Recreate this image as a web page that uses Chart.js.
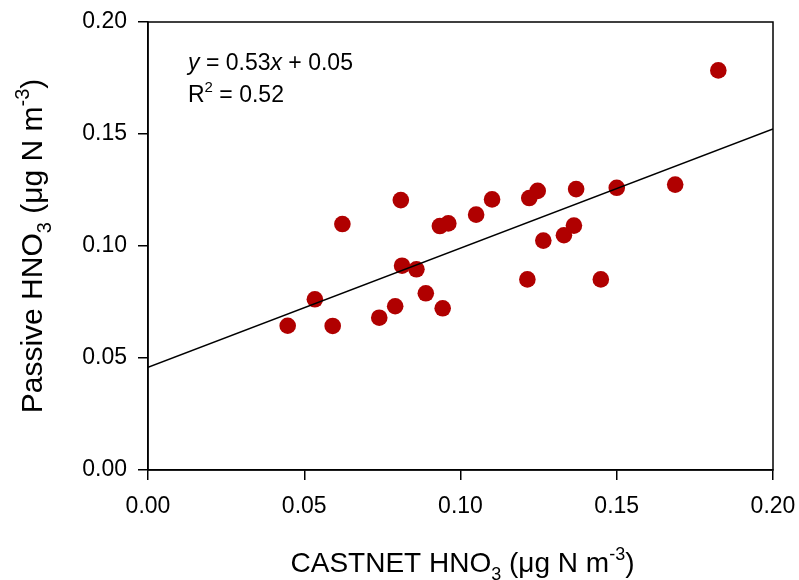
<!DOCTYPE html>
<html><head><meta charset="utf-8">
<script src="https://cdn.jsdelivr.net/npm/chart.js@4/dist/chart.umd.min.js"></script>
<style>html,body{margin:0;padding:0;background:#fff;}#wrap{width:799px;height:580px;}</style>
</head><body><div id="wrap"><canvas id="c" width="799" height="580"></canvas></div>
<script>
// ---- data ----
const castnetX = [0.0447, 0.0534, 0.0591, 0.0622, 0.0740, 0.0791, 0.0809, 0.0813, 0.0859, 0.0889, 0.0943, 0.0934, 0.0961, 0.1050, 0.1101, 0.1214, 0.1220, 0.1247, 0.1265, 0.1331, 0.1363, 0.1370, 0.1449, 0.1500, 0.1687, 0.1825];
const passiveY = [0.0644, 0.0762, 0.0643, 0.1098, 0.0680, 0.0731, 0.1205, 0.0912, 0.0896, 0.0789, 0.0722, 0.1089, 0.1101, 0.1140, 0.1208, 0.0851, 0.1214, 0.1246, 0.1024, 0.1048, 0.1091, 0.1254, 0.0851, 0.1260, 0.1274, 0.1784];
const fitX = [0.00, 0.20];
const fitY = [0.0459, 0.1522];
const xTicks = [0.00, 0.05, 0.10, 0.15, 0.20];
const yTicks = [0.00, 0.05, 0.10, 0.15, 0.20];
const xTitle = [['CASTNET HNO',''],['3','sub'],[' (\u03BCg N m',''],['-3','sup'],[')','']];
const yTitle = [['Passive HNO',''],['3','sub'],[' (\u03BCg N m',''],['-3','sup'],[')','']];
const eqLine1 = [['y','it'],[' = 0.53',''],['x','it'],[' + 0.05','']];
const eqLine2 = [['R',''],['2','sup'],[' = 0.52','']];

const FAM = '"Liberation Sans", Arial, Helvetica, sans-serif';

function segFont(kind, size){
  const s = (kind==='sub'||kind==='sup') ? Math.round(size*0.65) : size;
  return (kind==='it' ? 'italic ' : '') + s + 'px ' + FAM;
}
function richWidth(ctx, segs, size){
  let w=0; for(const [t,k] of segs){ ctx.font=segFont(k,size); w+=ctx.measureText(t).width; } return w;
}
function drawRich(ctx, segs, x, y, size, align){
  ctx.save();
  ctx.fillStyle='#000'; ctx.textBaseline='alphabetic'; ctx.textAlign='left';
  let cx = x;
  if(align==='center') cx = x - richWidth(ctx, segs, size)/2;
  for(const [t,k] of segs){
    ctx.font=segFont(k,size);
    let dy=0; if(k==='sub') dy=size*0.3; if(k==='sup') dy=-size*0.42;
    ctx.fillText(t, cx, y+dy);
    cx += ctx.measureText(t).width;
  }
  ctx.restore();
}

const decor = {
  id:'decor',
  afterDatasetsDraw(chart){
    const {ctx, chartArea:a} = chart;
    ctx.save();
    ctx.strokeStyle='#000'; ctx.lineWidth=1.5;
    ctx.strokeRect(a.left, a.top, a.right-a.left, a.bottom-a.top);
    ctx.restore();
  },
  afterDraw(chart){
    const ctx = chart.ctx, a = chart.chartArea;
    drawRich(ctx, eqLine1, 188, 70, 23, 'left');
    drawRich(ctx, eqLine2, 188, 102, 23, 'left');
    drawRich(ctx, xTitle, (a.left+a.right)/2 + 2, 572, 28, 'center');
    ctx.save();
    ctx.translate(42, (a.top+a.bottom)/2);
    ctx.rotate(-Math.PI/2);
    drawRich(ctx, yTitle, 0, 0, 30, 'center');
    ctx.restore();
  }
};

const tickFont = {family: FAM, size: 23};
new Chart(document.getElementById('c'), {
  data: {
    datasets: [
      { type:'line', data: fitX.map((x,i)=>({x, y: fitY[i]})), borderColor:'#000', borderWidth:1.5, pointRadius:0, fill:false, order:0 },
      { type:'scatter', data: castnetX.map((x,i)=>({x, y: passiveY[i]})), backgroundColor:'#b00000', borderColor:'#b00000', borderWidth:0, pointRadius:8.3, order:1 }
    ]
  },
  options: {
    responsive:false, animation:false, devicePixelRatio:1,
    layout:{padding:{left:0,right:26,top:22,bottom:0}},
    plugins:{legend:{display:false}, tooltip:{enabled:false}},
    scales:{
      x:{ type:'linear', min:0, max:0.2,
        afterBuildTicks: s=>{ s.ticks = xTicks.map(v=>({value:v})); },
        afterFit: s=>{ s.height = 110; s.paddingLeft = 0; s.paddingRight = 0; s.paddingTop = 0; s.paddingBottom = 0; },
        ticks:{ callback:v=>Number(v).toFixed(2), font:tickFont, color:'#000', padding:13, maxRotation:0, autoSkip:false },
        grid:{ display:true, drawOnChartArea:false, drawTicks:true, tickLength:10, color:'#000', lineWidth:1.5 },
        border:{ display:true, color:'#000', width:1.5 }
      },
      y:{ type:'linear', min:0, max:0.2,
        afterBuildTicks: s=>{ s.ticks = yTicks.map(v=>({value:v})); },
        afterFit: s=>{ s.width = 148; s.paddingLeft = 0; s.paddingRight = 0; s.paddingTop = 0; s.paddingBottom = 0; },
        ticks:{ callback:v=>Number(v).toFixed(2), font:tickFont, color:'#000', padding:11, autoSkip:false },
        grid:{ display:true, drawOnChartArea:false, drawTicks:true, tickLength:10, color:'#000', lineWidth:1.5 },
        border:{ display:true, color:'#000', width:1.5 }
      }
    }
  },
  plugins:[decor]
});
</script></body></html>
